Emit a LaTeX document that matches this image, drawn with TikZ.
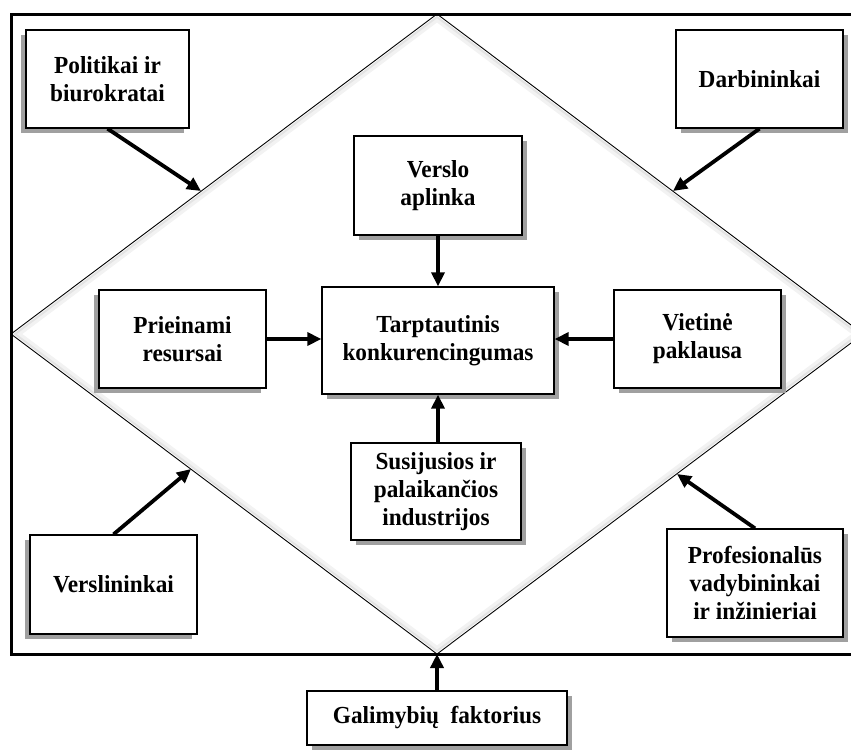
\documentclass[tikz,border=0pt]{standalone}
\usepackage{fontspec}
\setmainfont[FakeStretch=0.95]{Liberation Serif}
\usetikzlibrary{arrows.meta}
\definecolor{shadowgray}{HTML}{A0A0A0}
\begin{document}
\begin{tikzpicture}[x=1pt,y=-1pt,
  box/.style={draw, line width=1.3pt, fill=white, align=center,
    font=\fontsize{24.5}{28}\selectfont\bfseries, inner sep=0pt},
  shR/.style={preaction={fill=shadowgray, transform canvas={shift={(5pt,-5pt)}}}},
  shL/.style={preaction={fill=shadowgray, transform canvas={shift={(-5pt,-5pt)}}}},
  arr/.style={line width=3.8pt, -{Triangle[length=14pt,width=13pt]}},
]
\useasboundingbox (0,0) rectangle (851,753);
\clip (0,0) rectangle (851,753);

% diamond corners
\coordinate (dt) at (437,14);
\coordinate (dr) at (863,334);
\coordinate (db) at (437,654);
\coordinate (dl) at (11,334);

% outer frame
\draw[line width=3pt] (11,14) rectangle (863,654);

% soft inner shade along the diamond
\draw[gray!10, line width=4pt] (437,20) -- (855,334) -- (437,648) -- (19,334) -- cycle;
\draw[gray!22, line width=2pt] (437,17) -- (859,334) -- (437,651) -- (15,334) -- cycle;
\draw[line width=0.9pt] (dt) -- (dr) -- (db) -- (dl) -- cycle;

% boxes
\node[box, shL, minimum width=163pt, minimum height=98pt] (P) at (107.5,79) {Politikai ir\\biurokratai};
\node[box, shR, minimum width=167pt, minimum height=98pt] (D) at (759.5,79) {Darbininkai};
\node[box, shR, minimum width=168pt, minimum height=99pt] (VA) at (438,185.5) {Verslo\\aplinka};
\node[box, shR, minimum width=232pt, minimum height=107pt] (T) at (438,340.5) {Tarptautinis\\konkurencingumas};
\node[box, shL, minimum width=167pt, minimum height=98pt] (PR) at (182.5,339) {Prieinami\\resursai};
\node[box, shR, minimum width=167pt, minimum height=98pt] (VT) at (697.5,339) {Vietinė\\paklausa};
\node[box, shR, minimum width=170pt, minimum height=97pt] (S) at (436,491.5) {Susijusios ir\\palaikančios\\industrijos};
\node[box, shL, minimum width=167pt, minimum height=99pt] (VL) at (113.5,584.5) {Verslininkai};
\node[box, shR, minimum width=176pt, minimum height=108pt] (PF) at (755,583) {Profesionalūs\\vadybininkai\\ir inžinieriai};
\node[box, shR, minimum width=260pt, minimum height=54pt] (G) at (437,718) {Galimybių~ faktorius};

% arrow tips on the diamond edges
\coordinate (pa) at (201,191);
\coordinate (da) at (673,191);
\coordinate (va) at (191,469);
\coordinate (fa) at (677,474);

% connectors
\draw[arr] (P.south) -- (pa);
\draw[arr] (D.south) -- (da);
\draw[arr] (VL.north) -- (va);
\draw[arr] (PF.north) -- (fa);
\draw[arr] (VA.south) -- (T.north);
\draw[arr] (PR.east) -- (PR.east -| T.west);
\draw[arr] (VT.west) -- (VT.west -| T.east);
\draw[arr] (S.north -| T.south) -- (T.south);
\draw[arr] (G.north) -- (db);
\end{tikzpicture}
\end{document}
